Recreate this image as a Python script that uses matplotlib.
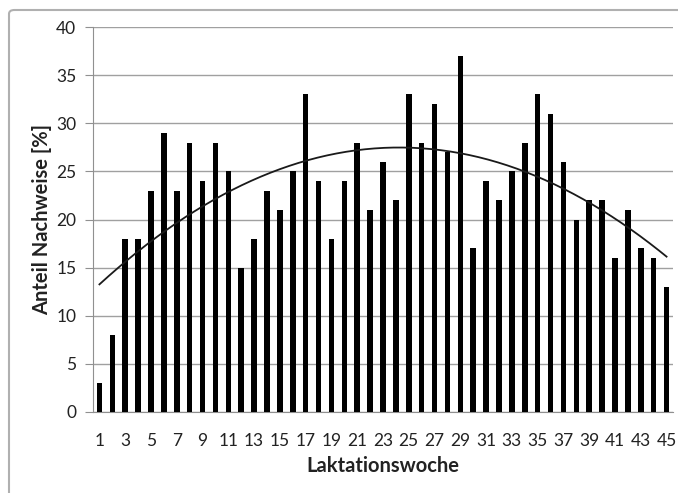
import numpy as np
import matplotlib
matplotlib.use("Agg")
import matplotlib.pyplot as plt
from matplotlib.patches import FancyBboxPatch

weeks = list(range(1, 46))
values = [3, 8, 18, 18, 23, 29, 23, 28, 24, 28, 25, 15, 18, 23, 21, 25, 33, 24, 18, 24,
          28, 21, 26, 22, 33, 28, 32, 27, 37, 17, 24, 22, 25, 28, 33, 31, 26, 20, 22, 22,
          16, 21, 17, 16, 13]
tick_labels = [str(w) for w in weeks if w % 2 == 1]
y_ticks = [0, 5, 10, 15, 20, 25, 30, 35, 40]

plt.rcParams['font.family'] = ['Lato', 'DejaVu Sans']

W, H = 678, 493
fig = plt.figure(figsize=(W / 100, H / 100), dpi=100)

# outer frame
frame = FancyBboxPatch((9 / W, -20 / H), 700 / W, (H - 10 + 20) / H,
                       boxstyle="round,pad=0,rounding_size=0.008",
                       transform=fig.transFigure, fill=False,
                       edgecolor='#b0b0b0', linewidth=1.5)
fig.patches.append(frame)

left, right, top, bottom = 93, 673, 27, 412
ax = fig.add_axes([left / W, 1 - bottom / H, (right - left) / W, (bottom - top) / H])

x = np.array(weeks)
y = np.array(values)
ax.bar(x, y, width=0.43, color='black', zorder=3)

coef = np.polyfit(x, y, 2)
xs = np.linspace(1, 45, 300)
ax.plot(xs, np.polyval(coef, xs), color='#1a1a1a', linewidth=1.3, zorder=4)

ax.set_xlim(0.5, 45.5)
ax.set_ylim(0, 40)
ax.set_yticks(y_ticks)
ax.set_xticks([w for w in weeks if w % 2 == 1])
ax.set_xticklabels(tick_labels)

ax.grid(axis='y', color='#a0a0a0', linewidth=1.0, zorder=0)
ax.set_axisbelow(True)
for s in ['top', 'right']:
    ax.spines[s].set_visible(False)
ax.spines['left'].set_color('#909090')
ax.spines['bottom'].set_color('#909090')
ax.tick_params(axis='y', length=6, color='#909090', labelsize=12.5, labelcolor='#222222', pad=6)
ax.tick_params(axis='x', length=0, labelsize=12.5, labelcolor='#222222', pad=15)

ax.set_xlabel('Laktationswoche', fontsize=14.5, fontweight='bold', color='#222222', labelpad=5)
ax.set_ylabel('Anteil Nachweise [%]', fontsize=14.5, fontweight='bold', color='#222222', labelpad=3)

fig.savefig('out.png', dpi=100)
